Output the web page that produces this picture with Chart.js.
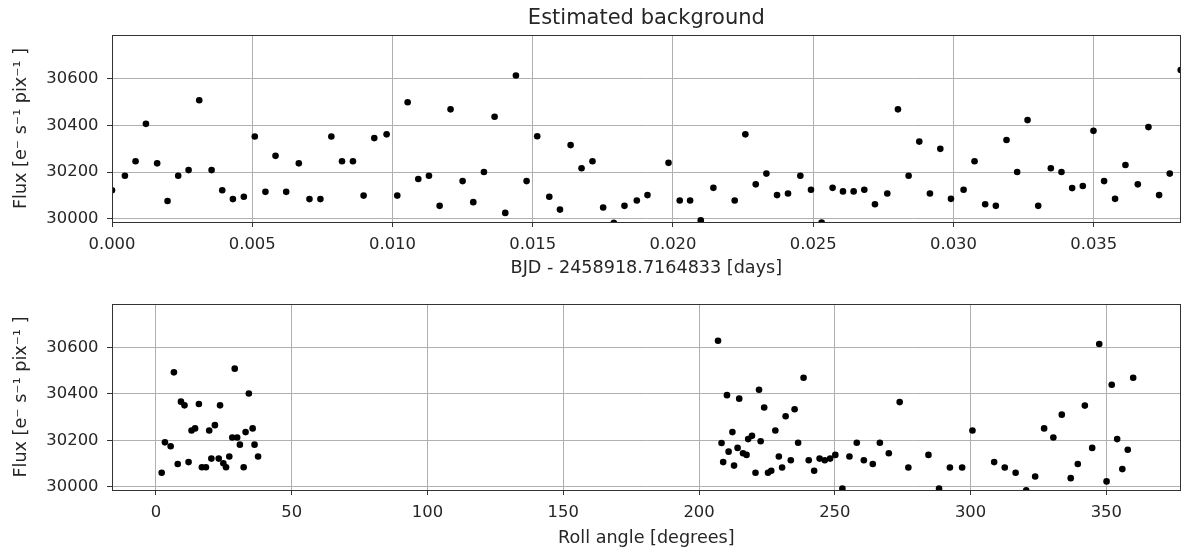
<!DOCTYPE html>
<html>
<head>
<meta charset="utf-8">
<script src="https://cdn.jsdelivr.net/npm/chart.js@4"></script>
<style>
  body { margin: 0; background: #fff; }
  canvas { display: block; }
</style>
</head>
<body>
<canvas id="timeChart" width="1184" height="282"></canvas>
<canvas id="rollChart" width="1184" height="270"></canvas>
<script>
// time since start [days] and background flux
const timeDays = [
  0.00000, 0.00046, 0.00084, 0.00121, 0.00161, 0.00198, 0.00236, 0.00273, 0.00311, 0.00355,
  0.00393, 0.00431, 0.00470, 0.00509, 0.00547, 0.00583, 0.00621, 0.00666, 0.00704, 0.00743,
  0.00782, 0.00820, 0.00859, 0.00897, 0.00935, 0.00979, 0.01017, 0.01054, 0.01092, 0.01130,
  0.01168, 0.01207, 0.01250, 0.01288, 0.01326, 0.01364, 0.01402, 0.01440, 0.01478, 0.01516,
  0.01559, 0.01597, 0.01635, 0.01674, 0.01713, 0.01751, 0.01789, 0.01827, 0.01871, 0.01909,
  0.01984, 0.02024, 0.02061, 0.02099, 0.02144, 0.02220, 0.02258, 0.02295, 0.02333, 0.02371,
  0.02410, 0.02454, 0.02492, 0.02530, 0.02569, 0.02606, 0.02644, 0.02682, 0.02720, 0.02764,
  0.02802, 0.02840, 0.02878, 0.02916, 0.02953, 0.02991, 0.03036, 0.03075, 0.03113, 0.03151,
  0.03189, 0.03227, 0.03264, 0.03302, 0.03347, 0.03385, 0.03423, 0.03461, 0.03499, 0.03537,
  0.03576, 0.03613, 0.03657, 0.03695, 0.03733, 0.03771, 0.03810
];
const fluxTime = [
  30123, 30185, 30247, 30407, 30238, 30077, 30185, 30209, 30508, 30209,
  30123, 30085, 30095, 30353, 30116, 30270, 30116, 30238, 30085, 30085,
  30353, 30247, 30247, 30100, 30346, 30362, 30100, 30499, 30171, 30185,
  30056, 30469, 30162, 30072, 30201, 30437, 30026, 30614, 30162, 30354,
  30095, 30040, 30316, 30217, 30247, 30049, 29984, 30056, 30079, 30102,
  30240, 30079, 30079, 29994, 30133, 30079, 30362, 30148, 30194, 30102,
  30109, 30185, 30125, 29985, 30133, 30118, 30118, 30125, 30063, 30109,
  30469, 30185, 30331, 30109, 30300, 30086, 30125, 30247, 30063, 30056,
  30338, 30201, 30423, 30056, 30217, 30201, 30132, 30141, 30377, 30162,
  30086, 30231, 30148, 30393, 30102, 30194, 30637
];

// roll angle [degrees] and background flux
const rollAngle = [
  2.1, 3.3, 5.4, 6.6, 8.0, 9.2, 10.5, 12.0, 13.1, 14.4,
  15.8, 16.9, 18.4, 19.6, 20.4, 21.7, 23.1, 23.6, 24.8, 25.8,
  27.0, 28.1, 29.0, 29.9, 30.9, 32.3, 33.0, 34.2, 35.6, 36.3, 37.6,
  207.0, 208.3, 208.9, 210.3, 210.9, 212.3, 212.9, 214.2, 214.8, 216.2,
  217.5, 218.1, 219.5, 220.8, 222.1, 222.7, 224.0, 225.4, 226.6, 228.1,
  229.4, 230.6, 231.9, 233.8, 235.2, 236.5, 238.5, 240.4, 242.4, 244.4,
  246.3, 248.3, 250.2, 252.8, 255.4, 258.1, 260.7, 264.0, 266.6, 269.9,
  273.9, 277.1, 284.5, 288.4, 292.4, 296.9, 300.7, 308.7, 312.6, 316.6,
  320.5, 323.8, 327.1, 330.5, 333.6, 336.9, 339.5, 342.1, 344.8, 347.4,
  350.1, 352.0, 354.0, 355.9, 357.9, 359.9
];
const fluxRoll = [
  30061, 30192, 30175, 30493, 30099, 30367, 30351, 30107, 30243, 30252,
  30357, 30085, 30085, 30243, 30122, 30266, 30122, 30351, 30102, 30085,
  30131, 30213, 30509, 30213, 30182, 30085, 30236, 30402, 30252, 30182, 30131,
  30629, 30189, 30107, 30395, 30152, 30236, 30092, 30168, 30380, 30145,
  30138, 30206, 30220, 30061, 30418, 30197, 30342, 30061, 30070, 30243,
  30131, 30084, 30304, 30115, 30334, 30190, 30470, 30115, 30070, 30122,
  30115, 30122, 30138, 29993, 30131, 30190, 30115, 30099, 30190, 30145,
  30365, 30084, 30138, 29993, 30084, 30084, 30243, 30107, 30084, 30061,
  29986, 30045, 30252, 30213, 30311, 30038, 30099, 30350, 30168, 30615,
  30024, 30440, 30206, 30077, 30160, 30470
];

const fluxTicks = [30000, 30200, 30400, 30600];
const timeTicks = [0, 0.005, 0.010, 0.015, 0.020, 0.025, 0.030, 0.035];
const rollTicks = [0, 50, 100, 150, 200, 250, 300, 350];

const FONT = 'DejaVu Sans';
const TEXT = '#262626';
const TICK_SIZE = 16.4;
const LABEL_SIZE = 17.6;
const fluxLabel = 'Flux [e\u207B s\u207B\u00B9 pix\u207B\u00B9 ]';

// matplotlib style frame on all four sides
const framePlugin = {
  id: 'frame',
  afterDraw(chart) {
    const a = chart.chartArea;
    const ctx = chart.ctx;
    ctx.save();
    ctx.strokeStyle = '#333';
    ctx.lineWidth = 1;
    ctx.strokeRect(Math.round(a.left) + 0.5, Math.round(a.top) + 0.5,
      Math.round(a.right - a.left) - 1, Math.round(a.bottom - a.top));
    ctx.restore();
  }
};

function makeChart(id, xs, ys, opts) {
  const points = xs.map((x, i) => ({ x: x, y: ys[i] }));
  return new Chart(document.getElementById(id), {
    type: 'scatter',
    data: {
      datasets: [{
        data: points,
        backgroundColor: '#000',
        borderWidth: 0,
        pointRadius: 3.3,
        pointHoverRadius: 3.3,
        clip: 0
      }]
    },
    options: {
      responsive: false,
      animation: false,
      events: [],
      layout: { padding: { left: 0, right: 1, top: opts.padTop, bottom: 0 } },
      plugins: {
        legend: { display: false },
        tooltip: { enabled: false },
        title: opts.title ? {
          display: true,
          text: opts.title,
          fullSize: false,
          color: TEXT,
          font: { family: FONT, size: 21, weight: 'normal' },
          padding: { top: 6, bottom: 3.8 }
        } : { display: false }
      },
      scales: {
        x: {
          type: 'linear',
          min: opts.xMin,
          max: opts.xMax,
          afterBuildTicks: s => { s.ticks = opts.xTicks.map(v => ({ value: v })); },
          afterFit: s => { s.height = opts.xHeight; },
          border: { display: false },
          grid: { color: '#b0b0b0', lineWidth: 1, tickLength: 5, tickColor: '#333' },
          ticks: {
            autoSkip: false,
            maxRotation: 0,
            padding: 7.5,
            color: TEXT,
            font: { family: FONT, size: TICK_SIZE },
            callback: opts.xFormat
          },
          title: {
            display: true,
            text: opts.xTitle,
            color: TEXT,
            font: { family: FONT, size: LABEL_SIZE },
            padding: { top: 0, bottom: 3 }
          }
        },
        y: {
          type: 'linear',
          min: 29987,
          max: 30787,
          afterBuildTicks: s => { s.ticks = fluxTicks.map(v => ({ value: v })); },
          afterFit: s => { s.width = 112; },
          border: { display: false },
          grid: { color: '#b0b0b0', lineWidth: 1, tickLength: 5, tickColor: '#333' },
          ticks: {
            padding: 8.5,
            color: TEXT,
            font: { family: FONT, size: TICK_SIZE },
            callback: v => String(v)
          },
          title: {
            display: true,
            text: fluxLabel,
            color: TEXT,
            font: { family: FONT, size: LABEL_SIZE },
            padding: { top: 11, bottom: 0 }
          }
        }
      }
    },
    plugins: [framePlugin]
  });
}

makeChart('timeChart', timeDays, fluxTime, {
  title: 'Estimated background',
  padTop: 0,
  xMin: 0,
  xMax: 0.0381,
  xTicks: timeTicks,
  xHeight: 60,
  xTitle: 'BJD - 2458918.7164833 [days]',
  xFormat: v => Number(v).toFixed(3)
});

makeChart('rollChart', rollAngle, fluxRoll, {
  title: null,
  padTop: 22,
  xMin: -16.2,
  xMax: 377.4,
  xTicks: rollTicks,
  xHeight: 62,
  xTitle: 'Roll angle [degrees]',
  xFormat: v => String(v)
});
</script>
</body>
</html>
